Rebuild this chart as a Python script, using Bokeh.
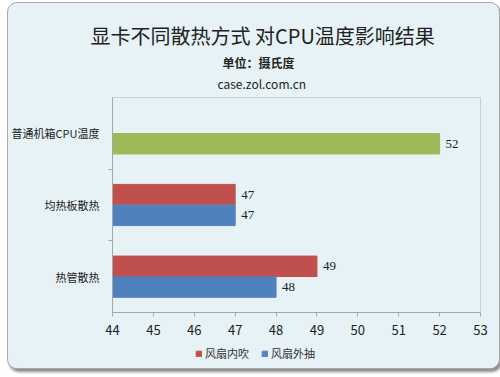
from bokeh.plotting import figure
from bokeh.layouts import column
from bokeh.models import (Range1d, FixedTicker, Title, Legend, LegendItem,
                          ColumnDataSource, LabelSet, Spacer)
from bokeh.embed import file_html
from bokeh.resources import INLINE

# ---- data ----
categories = ["普通机箱CPU温度", "均热板散热", "热管散热"]   # top to bottom
series_names = ["风扇内吹", "风扇外抽"]
ordinary_value = [52]                 # 普通机箱CPU温度 (green, single bar)
fan_in = [47, 49]                     # 均热板散热, 热管散热
fan_out = [47, 48]
x_ticks = [44, 45, 46, 47, 48, 49, 50, 51, 52, 53]

FONT = "Noto Sans CJK SC"
GREEN, RED, BLUE = "#9BBB59", "#C0504D", "#4F81BD"
BG = "#e6f2f5"

n = len(categories)
centre = {c: n - 1 - i + 0.5 for i, c in enumerate(categories)}

p = figure(frame_width=368, frame_height=215, output_backend="svg",
           toolbar_location=None,
           x_range=Range1d(x_ticks[0], x_ticks[-1]), y_range=Range1d(0, n),
           min_border_left=102, min_border_right=19, min_border_top=0,
           min_border_bottom=29)

p.background_fill_color = BG
p.border_fill_color = BG
p.outline_line_color = "#c9cfd2"
p.grid.visible = False

h = 0.285
off = 0.145

gsrc = ColumnDataSource(dict(y=[centre[categories[0]] - off], x=ordinary_value,
                             lab=[str(v) for v in ordinary_value]))
p.hbar(y="y", right="x", left=x_ticks[0], height=h, source=gsrc,
       fill_color=GREEN, line_color=GREEN)

rsrc = ColumnDataSource(dict(y=[centre[c] + off for c in categories[1:]], x=fan_in,
                             lab=[str(v) for v in fan_in]))
bsrc = ColumnDataSource(dict(y=[centre[c] - off for c in categories[1:]], x=fan_out,
                             lab=[str(v) for v in fan_out]))
p.hbar(y="y", right="x", left=x_ticks[0], height=h, source=rsrc,
       fill_color=RED, line_color=RED)
p.hbar(y="y", right="x", left=x_ticks[0], height=h, source=bsrc,
       fill_color=BLUE, line_color=BLUE)

for src in (gsrc, rsrc, bsrc):
    p.add_layout(LabelSet(x="x", y="y", text="lab", source=src, x_offset=6,
                          text_font=FONT, text_font_size="13px",
                          text_color="#222222", text_baseline="middle"))

p.xaxis.ticker = FixedTicker(ticks=x_ticks)
p.xaxis.axis_line_color = "#a6a6a6"
p.xaxis.major_tick_line_color = "#a6a6a6"
p.xaxis.major_tick_out = 4
p.xaxis.major_tick_in = 0
p.xaxis.minor_tick_line_color = None
p.xaxis.major_label_text_font = FONT
p.xaxis.major_label_text_font_size = "13px"
p.xaxis.major_label_text_color = "#222222"
p.xaxis.major_label_standoff = 8

p.yaxis.ticker = FixedTicker(ticks=[centre[c] for c in categories],
                             minor_ticks=list(range(1, n)))
p.yaxis.major_label_overrides = {centre[c]: c for c in categories}
p.yaxis.axis_line_color = "#a6a6a6"
p.yaxis.major_tick_line_color = None
p.yaxis.major_tick_out = 0
p.yaxis.major_tick_in = 0
p.yaxis.minor_tick_line_color = "#a6a6a6"
p.yaxis.minor_tick_out = 4
p.yaxis.minor_tick_in = 0
p.yaxis.major_label_text_font = FONT
p.yaxis.major_label_text_font_size = "11px"
p.yaxis.major_label_text_color = "#222222"
p.yaxis.major_label_standoff = 9

# titles: p.title outermost, added ones stack outward from the frame
p.title.text = "显卡不同散热方式 对CPU温度影响结果"
p.title.align = "left"
p.title.offset = -22
p.title.text_font = FONT
p.title.text_font_size = "20px"
p.title.text_font_style = "normal"
p.title.text_color = "#222222"
p.title.standoff = 13
p.add_layout(Title(text="case.zol.com.cn", align="left", offset=105,
                   text_font=FONT, text_font_size="12px",
                   text_font_style="normal", text_color="#222222",
                   standoff=12), "above")
p.add_layout(Title(text="单位：摄氏度", align="left", offset=110,
                   text_font=FONT, text_font_size="12px", text_font_style="bold",
                   text_color="#222222", standoff=-9), "above")

# legend strip below the chart (its frame aligns with the chart's frame)
pl = figure(width=489, height=27, output_backend="svg", toolbar_location=None,
            title=None, x_range=Range1d(0, 1), y_range=Range1d(0, 1),
            x_axis_location=None, y_axis_location=None, min_border=0)
pl.background_fill_color = BG
pl.border_fill_color = BG
pl.outline_line_color = None
pl.grid.visible = False
lr_in = pl.hbar(y=[-5], right=[-5], left=-6, height=0.1,
                fill_color=RED, line_color=RED)
lr_out = pl.hbar(y=[-5], right=[-5], left=-6, height=0.1,
                 fill_color=BLUE, line_color=BLUE)
legend = Legend(items=[LegendItem(label=series_names[0], renderers=[lr_in]),
                       LegendItem(label=series_names[1], renderers=[lr_out])],
                orientation="horizontal", location=(83, 7),
                label_text_font=FONT, label_text_font_size="11px",
                label_text_color="#333333", glyph_width=7, glyph_height=7,
                label_standoff=3, spacing=12, padding=2, margin=0,
                label_height=14,
                background_fill_alpha=0, border_line_color=None)
pl.add_layout(legend)

top_gap = Spacer(width=489, height=9)
layout = column(top_gap, p, pl, spacing=0)
layout.styles = {"margin-left": "7px", "margin-top": "2px",
                 "background-color": BG,
                 "border": "1px solid #a9a9a9", "border-radius": "10px",
                 "box-shadow": "2px 3px 3px #8a8a8a", "overflow": "hidden"}

open("out.html", "w").write(file_html(layout, INLINE))
